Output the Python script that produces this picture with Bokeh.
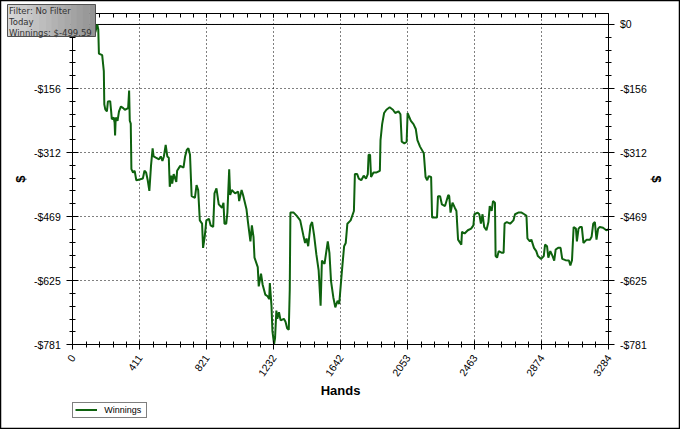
from bokeh.plotting import figure
from bokeh.models import (FixedTicker, LinearAxis, Range1d, Label,
                          Legend, LegendItem, ColumnDataSource, CustomJSTickFormatter)
from bokeh.embed import file_html
from bokeh.resources import INLINE

# ---- data ----
hands = [0, 96, 120, 132, 138, 150, 156, 160, 180, 190, 193, 199, 209, 215, 229, 235, 239, 250, 256, 259,
         263, 274, 283, 295, 309, 319, 339, 345, 349, 355, 359, 369, 379, 389, 409, 429, 439, 449, 459, 469,
         479, 489, 495, 509, 528, 539, 549, 558, 569, 579, 588, 594, 603, 609, 618, 634, 639, 658, 678, 688,
         698, 708, 718, 728, 748, 758, 768, 778, 792, 798, 808, 818, 834, 844, 860, 868, 880, 894, 914, 923,
         929, 940, 947, 958, 964, 974, 994, 1013, 1019, 1034, 1043, 1064, 1073, 1088, 1097, 1107, 1113, 1133, 1139, 1153,
         1163, 1179, 1193, 1203, 1207, 1217, 1223, 1233, 1239, 1247, 1253, 1263, 1273, 1293, 1303, 1313, 1323, 1329, 1333, 1353,
         1372, 1393, 1412, 1423, 1432, 1442, 1456, 1466, 1478, 1492, 1506, 1518, 1526, 1542, 1562, 1572, 1582, 1596, 1608, 1622,
         1632, 1648, 1662, 1672, 1682, 1702, 1722, 1728, 1742, 1752, 1767, 1782, 1796, 1807, 1812, 1821, 1827, 1842, 1861, 1881,
         1885, 1895, 1907, 1921, 1941, 1961, 1975, 1995, 2007, 2015, 2031, 2045, 2051, 2071, 2087, 2101, 2111, 2127, 2150, 2161,
         2171, 2180, 2195, 2201, 2231, 2237, 2250, 2261, 2280, 2300, 2306, 2314, 2326, 2340, 2350, 2360, 2380, 2384, 2400, 2420,
         2440, 2454, 2460, 2480, 2490, 2500, 2510, 2520, 2534, 2546, 2554, 2566, 2574, 2586, 2590, 2599, 2609, 2629, 2639, 2645,
         2659, 2679, 2699, 2709, 2729, 2749, 2766, 2779, 2785, 2800, 2809, 2825, 2839, 2849, 2869, 2885, 2893, 2905, 2913, 2925,
         2939, 2949, 2958, 2973, 2988, 2998, 3018, 3039, 3048, 3058, 3068, 3082, 3088, 3098, 3108, 3118, 3128, 3148, 3168, 3178,
         3188, 3198, 3208, 3218, 3228, 3248, 3268, 3284]
winnings = [0, -7, -12, -5, -19, 0, -12, -71, -75, -114, -195, -207, -212, -188, -187, -212, -231, -227, -239, -271,
            -227, -235, -212, -200, -204, -208, -204, -161, -235, -242, -353, -361, -357, -380, -378, -376, -357, -361, -380, -406,
            -345, -302, -322, -325, -329, -322, -333, -322, -294, -322, -325, -396, -369, -388, -365, -384, -357, -345, -349, -322,
            -306, -302, -318, -419, -423, -392, -404, -478, -486, -545, -518, -478, -474, -490, -494, -412, -400, -439, -447, -435,
            -486, -486, -459, -353, -416, -404, -412, -408, -431, -404, -416, -451, -482, -529, -490, -518, -569, -592, -639, -608,
            -635, -659, -663, -670, -631, -686, -749, -780, -765, -698, -718, -702, -722, -718, -725, -741, -745, -647, -459, -459,
            -467, -478, -514, -533, -522, -541, -490, -482, -514, -561, -600, -686, -576, -584, -529, -557, -627, -666, -690, -674,
            -682, -604, -541, -533, -486, -478, -455, -365, -365, -376, -380, -369, -376, -365, -318, -318, -372, -361, -361, -357,
            -282, -243, -216, -208, -202, -208, -216, -212, -219, -286, -290, -286, -216, -235, -243, -255, -282, -298, -314, -372,
            -380, -370, -372, -471, -471, -419, -419, -439, -443, -416, -419, -459, -435, -447, -455, -525, -537, -506, -510, -502,
            -498, -490, -463, -459, -463, -486, -463, -494, -502, -482, -443, -455, -431, -435, -565, -569, -553, -557, -557, -486,
            -482, -486, -478, -463, -459, -459, -463, -467, -522, -529, -525, -545, -553, -565, -572, -565, -537, -541, -569, -553,
            -565, -576, -549, -545, -545, -572, -575, -576, -588, -575, -494, -498, -529, -498, -494, -494, -533, -525, -525, -518,
            -486, -482, -525, -498, -494, -496, -502, -499.59]

x_tick_values = [0, 410.5, 821, 1231.5, 1642, 2052.5, 2463, 2873.5, 3284]
x_tick_labels = ["0", "411", "821", "1232", "1642", "2053", "2463", "2874", "3284"]
y_tick_values = [0, -156.25, -312.5, -468.75, -625, -781.25]
y_tick_labels = ["$0", "-$156", "-$312", "-$469", "-$625", "-$781"]
x_minor_values = [i * 82.1 for i in range(41)]
y_minor_values = [-i * 31.25 for i in range(26)]
y_top_value = 28

series_name = "Winnings"
info_text = "Filter: No Filter\nToday\nWinnings: $-499.59"

GREEN = "#0e620e"
FONT = "Liberation Sans"

# ---- layout: the frame fills the whole canvas; axes sit at fixed data locations ----
FIG_W, FIG_H = 680, 429
PLOT_L, PLOT_R, PLOT_T, PLOT_B = 72.3, 608.4, 12.5, 344.2
BOX_L, BOX_R, BOX_T, BOX_B = 7, 95, 4, 36   # info box, canvas pixels

X0, X1 = x_tick_values[0], x_tick_values[-1]
Y0, Y1 = y_tick_values[-1], y_top_value
kx = (PLOT_R - PLOT_L) / (X1 - X0)
ky = (PLOT_B - PLOT_T) / (Y1 - Y0)
x_range = Range1d(X0 - PLOT_L / kx, X1 + (FIG_W - PLOT_R) / kx)
y_range = Range1d(Y0 - (FIG_H - PLOT_B) / ky, Y1 + PLOT_T / ky)


def fx(px):
    return x_range.start + px / kx


def fy(py):
    return y_range.end - py / ky


p = figure(width=FIG_W, height=FIG_H, output_backend="svg", toolbar_location=None,
           x_range=x_range, y_range=y_range,
           min_border_left=0, min_border_right=0, min_border_top=0, min_border_bottom=0,
           background_fill_color="white", border_fill_color="white",
           outline_line_color="black", outline_line_width=1.5)
p.title.visible = False

xticker = FixedTicker(ticks=x_tick_values, minor_ticks=x_minor_values)
yticker = FixedTicker(ticks=y_tick_values, minor_ticks=y_minor_values)
xov = {v: l for v, l in zip(x_tick_values, x_tick_labels)}
yov = {v: l for v, l in zip(y_tick_values, y_tick_labels)}


def style_axis(ax):
    ax.axis_line_color = "black"
    ax.major_tick_line_color = "black"
    ax.minor_tick_line_color = "black"
    ax.major_label_text_font = FONT
    ax.major_label_text_font_size = "10.5px"
    ax.major_label_text_color = "black"
    ax.axis_label_text_font = FONT
    ax.axis_label_text_font_style = "bold"
    ax.axis_label_text_font_size = "13px"
    ax.axis_label_text_color = "black"


xa = p.xaxis[0]
xa.ticker = xticker
xa.major_label_overrides = xov
xa.fixed_location = Y0
xa.bounds = (X0, X1)
style_axis(xa)
xa.major_tick_in = 4
xa.major_tick_out = 5
xa.minor_tick_in = 3
xa.minor_tick_out = 3
xa.major_label_orientation = 0.96
xa.major_label_standoff = 6
xa.axis_label = "Hands"
xa.axis_label_standoff = 1

ya = p.yaxis[0]
ya.ticker = yticker
ya.major_label_overrides = yov
ya.fixed_location = X0
ya.bounds = (Y0, Y1)
style_axis(ya)
ya.major_tick_in = 6
ya.major_tick_out = 6
ya.minor_tick_in = 3
ya.minor_tick_out = 3
ya.major_label_standoff = 6
ya.axis_label = "$"
ya.axis_label_standoff = 3

ra = LinearAxis(ticker=yticker, major_label_overrides=yov, axis_label="$",
                fixed_location=X1, bounds=(Y0, Y1))
style_axis(ra)
ra.major_tick_in = 6
ra.major_tick_out = 6
ra.minor_tick_in = 3
ra.minor_tick_out = 3
ra.major_label_standoff = 5
ra.axis_label_standoff = 0
p.add_layout(ra, "right")

ta = LinearAxis(ticker=xticker, formatter=CustomJSTickFormatter(code="return ''"),
                fixed_location=Y1, bounds=(X0, X1))
ta.axis_line_color = "black"
ta.major_tick_line_color = "black"
ta.minor_tick_line_color = "black"
ta.major_tick_in = 4
ta.major_tick_out = 0
ta.minor_tick_in = 4
ta.minor_tick_out = 0
ta.major_label_standoff = 0
p.add_layout(ta, "above")

# ---- dotted grid limited to the plot box ----
p.xgrid.ticker = xticker
p.ygrid.ticker = yticker
grid_ok = True
for g, cb in ((p.xgrid[0], (Y0, Y1)), (p.ygrid[0], (X0, X1))):
    g.grid_line_color = "black"
    g.grid_line_dash = "1 3"
    g.grid_line_width = 1
    try:
        g.cross_bounds = cb
    except Exception:
        grid_ok = False
if not grid_ok:
    p.xgrid.visible = False
    p.ygrid.visible = False
    p.segment(x0=x_tick_values, y0=[Y0] * len(x_tick_values), x1=x_tick_values, y1=[Y1] * len(x_tick_values),
              line_color="black", line_dash="1 3", line_width=1)
    p.segment(x0=[X0] * len(y_tick_values), y0=y_tick_values, x1=[X1] * len(y_tick_values), y1=y_tick_values,
              line_color="black", line_dash="1 3", line_width=1)

# solid zero line
p.segment(x0=[X0], y0=[0], x1=[X1], y1=[0], line_color="black", line_width=1)

src = ColumnDataSource(dict(hands=hands, winnings=winnings))
r = p.line("hands", "winnings", source=src, line_color=GREEN, line_width=2)

legend = Legend(items=[LegendItem(label=series_name, renderers=[r])], location=(PLOT_L, 11.5),
                orientation="vertical")
legend.label_text_font = FONT
legend.label_text_font_size = "9px"
legend.label_text_color = "black"
legend.glyph_width = 22
legend.glyph_height = 9
legend.label_height = 9
legend.label_width = 40
legend.label_standoff = 7
legend.padding = 2
legend.margin = 0
legend.spacing = 0
legend.border_line_color = "black"
legend.border_line_width = 1
legend.background_fill_color = "white"
legend.background_fill_alpha = 1
p.add_layout(legend, "center")

# ---- info box with a grey gradient (light left -> darker right) ----
n_strips = 14
shades = []
for i in range(n_strips):
    t = i / (n_strips - 1)
    v = int(round(0xd6 + (0x94 - 0xd6) * t))
    shades.append("#%02x%02x%02x" % (v, v, v))
sw = (BOX_R - BOX_L) / n_strips
p.quad(left=[fx(BOX_L + i * sw) for i in range(n_strips)],
       right=[fx(BOX_L + (i + 1) * sw) + 0.5 / kx for i in range(n_strips)],
       top=[fy(BOX_T)] * n_strips, bottom=[fy(BOX_B)] * n_strips,
       fill_color=shades, line_color=None, level="overlay")
p.quad(left=[fx(BOX_L)], right=[fx(BOX_R)], top=[fy(BOX_T)], bottom=[fy(BOX_B)],
       fill_color=None, line_color="#505050", line_width=1, level="overlay")

info = Label(x=BOX_L + 1.5, y=FIG_H - BOX_T - 1, x_units="screen", y_units="screen", text=info_text,
             text_font="DejaVu Sans", text_font_size="8.5px", text_color="#333333",
             text_line_height=1.1, level="overlay",
             text_align="left", text_baseline="top")
p.add_layout(info)

open("out.html", "w").write(file_html(p, INLINE))
